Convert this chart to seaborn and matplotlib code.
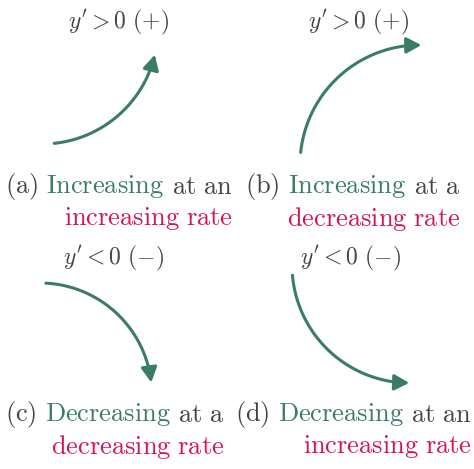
import numpy as np
import matplotlib
matplotlib.use("Agg")
import matplotlib.pyplot as plt
import seaborn as sns

sns.set_theme(style="white")
plt.rcParams["mathtext.fontset"] = "cm"

GREEN = "#3a7d64"
PINK = "#d4145a"
GRAY = "#444444"

# arcs: center x, center y, radius, start angle, end angle (deg, pixel frame, y down)
arc_cx = [42, 420, 40, 410]
arc_cy = [28, 165, 395, 265]
arc_r = [116, 120, 112, 118]
arc_t0 = [84, 186, 273, 175]
arc_t1 = [12, 272, 355, 89]

signs = [r"$y' > 0\ (+)$", r"$y' > 0\ (+)$", r"$y' < 0\ (-)$", r"$y' < 0\ (-)$"]
sign_x = [118, 358, 113, 350]
sign_y = [22, 22, 258, 258]

labels = ["(a)", "(b)", "(c)", "(d)"]
first_words = ["Increasing", "Increasing", "Decreasing", "Decreasing"]
tails = ["at an", "at a", "at a", "at an"]
rates = ["increasing rate", "decreasing rate", "decreasing rate", "increasing rate"]
cap_x = [5, 245, 5, 235]
cap_y = [187, 187, 415, 415]

fig = plt.figure(figsize=(4.74, 4.69), dpi=100)
ax = fig.add_axes([0, 0, 1, 1])
ax.set_xlim(0, 474)
ax.set_ylim(469, 0)
ax.axis("off")

fs = 19
for i in range(4):
    t = np.radians(np.linspace(arc_t0[i], arc_t1[i], 60))
    xs = arc_cx[i] + arc_r[i] * np.cos(t)
    ys = arc_cy[i] + arc_r[i] * np.sin(t)
    sns.lineplot(x=xs[:-3], y=ys[:-3], sort=False, ax=ax, color=GREEN, linewidth=2.2)
    ax.annotate("", xy=(xs[-1], ys[-1]), xytext=(xs[-5], ys[-5]),
                arrowprops=dict(arrowstyle="-|>,head_length=0.75,head_width=0.4",
                                color=GREEN, lw=2.2))
    ax.text(sign_x[i], sign_y[i], signs[i], ha="center", va="center", fontsize=17, color=GRAY)

    # caption pieces, laid out using renderer extents
    fig.canvas.draw()
    r = fig.canvas.get_renderer()
    x = cap_x[i]
    for txt, col in [(labels[i], GRAY), (first_words[i], GREEN), (tails[i], GRAY)]:
        t_ = ax.text(x, cap_y[i], r"$\mathrm{" + txt.replace(" ", r"\ ") + "}$",
                     fontsize=fs, color=col, va="center", ha="left")
        bb = t_.get_window_extent(r)
        x += bb.width + 8
    x_end = x - 8
    ax.text(x_end, cap_y[i] + 32,
            r"$\mathrm{" + rates[i].replace(" ", r"\ ") + "}$",
            fontsize=fs, color=PINK, va="center", ha="right")

fig.savefig("out.png", dpi=100)
